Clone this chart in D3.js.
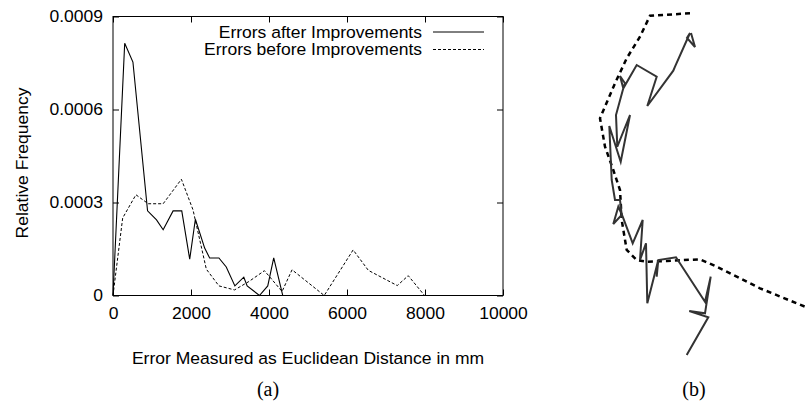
<!DOCTYPE html>
<html>
<head>
<meta charset="utf-8">
<script src="https://cdn.jsdelivr.net/npm/d3@7"></script>
<style>
  body { margin: 0; background: #fff; }
  svg { display: block; font-family: "Liberation Sans", Arial, sans-serif; }
</style>
</head>
<body>
<svg id="chart" width="805" height="402"></svg>
<script>
// (a) histogram of errors, x in mm, y relative frequency
const AFTER_X = [0, 300, 511, 886, 1116, 1286, 1541, 1763, 1967, 2112, 2350, 2478, 2716, 2904, 3125, 3354, 3440, 3755, 3968, 4121, 4352, 4950];
const AFTER_Y = [0, 0.000814, 0.000753, 0.000273, 0.000244, 0.000212, 0.000273, 0.000273, 0.000117, 0.000246, 0.000153, 0.000121, 0.000121, 0.000092, 0.000031, 0.000059, 0.000031, 0, 0.000031, 0.000121, 0, 0];
const BEFORE_X = [0, 248, 588, 903, 1286, 1754, 2052, 2393, 2716, 3117, 3483, 3883, 4335, 4591, 5416, 6157, 6548, 7289, 7570, 7988, 9120];
const BEFORE_Y = [0, 0.00025, 0.000325, 0.000296, 0.000296, 0.000375, 0.000276, 0.000085, 0.000031, 0.000018, 0.000045, 0.00008, 0.000013, 0.000083, 0, 0.000147, 0.000081, 0.000032, 0.000064, 0, 0];
const X_TICKS = [0, 2000, 4000, 6000, 8000, 10000];
const Y_TICKS = [0, 0.0003, 0.0006, 0.0009];
const Y_TICK_LABELS = ['0', '0.0003', '0.0006', '0.0009'];
const SERIES_NAMES = ['Errors after Improvements', 'Errors before Improvements'];

// (b) trajectories, panel units (no axes in the original)
const PATH_TRUE_X = [130, 90, 80, 66.7, 55, 40, 45, 53.3, 60, 61.7, 66.7, 76.7, 86.7, 106.7, 140, 156.7, 200, 245];
const PATH_TRUE_Y = [13.3, 15.7, 36.7, 58.3, 83.3, 118.3, 146.7, 170, 190, 220, 250, 260, 261.7, 261, 259.3, 266.7, 288.3, 306.7];
const PATH_EST_X = [131, 135, 127, 130, 115, 113.3, 87.3, 96.7, 76.7, 63.3, 60, 65, 63.3, 56, 57.3, 70, 60.7, 49.3, 51.7, 55, 60, 61.7, 53.3, 58.3, 62.7, 72.7, 82.7, 80, 86, 87.3, 98.3, 96.7, 98.3, 116, 145, 150.7, 145, 129.3, 148.3, 126.7];
const PATH_EST_Y = [33, 47, 38, 33, 66.7, 70.7, 106, 76.7, 65, 88.3, 76, 83.3, 88.3, 115, 146.7, 115, 161.7, 126, 180, 200, 200, 215, 224, 206.7, 216.7, 243.3, 220, 260, 243.3, 303.3, 260, 276.7, 260, 257.3, 301.7, 276.7, 313.3, 311, 317.3, 355];

const FONT_SIZE = 16.3;
const STRETCH = 1.075;   // the original text is a little wider than Arial

// widen text horizontally a bit
function stretch(sel) {
  sel.each(function() {
    const len = this.getComputedTextLength();
    if (len > 0) {
      d3.select(this).attr('textLength', len * STRETCH).attr('lengthAdjust', 'spacingAndGlyphs');
    }
  });
}

const svg = d3.select('#chart');
const M = { left: 113, right: 503, top: 16.5, bottom: 295.5 };

const x = d3.scaleLinear().domain([0, 10000]).range([M.left, M.right]);
const y = d3.scaleLinear().domain([0, 0.0009]).range([M.bottom, M.top]);

// frame
svg.append('rect')
  .attr('x', M.left).attr('y', M.top)
  .attr('width', M.right - M.left).attr('height', M.bottom - M.top)
  .attr('fill', 'none').attr('stroke', '#000').attr('stroke-width', 1);

// ticks, mirrored on all four sides, pointing inwards
const g = svg.append('g');
g.append('g').attr('transform', `translate(0,${M.bottom})`)
  .call(d3.axisBottom(x).tickValues(X_TICKS).tickSizeInner(-6).tickSizeOuter(0).tickPadding(12).tickFormat(d3.format('d')))
  .call(a => a.select('.domain').remove());
g.append('g').attr('transform', `translate(0,${M.top})`)
  .call(d3.axisTop(x).tickValues(X_TICKS).tickSizeInner(-6).tickSizeOuter(0).tickFormat(''))
  .call(a => a.select('.domain').remove());
g.append('g').attr('transform', `translate(${M.left},0)`)
  .call(d3.axisLeft(y).tickValues(Y_TICKS).tickSizeInner(-6).tickSizeOuter(0).tickPadding(10)
    .tickFormat((d, i) => Y_TICK_LABELS[i]))
  .call(a => a.select('.domain').remove());
g.append('g').attr('transform', `translate(${M.right},0)`)
  .call(d3.axisRight(y).tickValues(Y_TICKS).tickSizeInner(-6).tickSizeOuter(0).tickFormat(''))
  .call(a => a.select('.domain').remove());
g.selectAll('.tick text').attr('fill', '#000').attr('font-size', FONT_SIZE)
  .attr('font-family', '"Liberation Sans", Arial, sans-serif')
  .call(stretch);
g.selectAll('.tick line').attr('stroke', '#000');

const line = d3.line().x(d => x(d[0])).y(d => y(d[1]));
const after = AFTER_X.map((v, i) => [v, AFTER_Y[i]]);
const before = BEFORE_X.map((v, i) => [v, BEFORE_Y[i]]);

svg.append('path').datum(before).attr('d', line)
  .attr('fill', 'none').attr('stroke', '#000').attr('stroke-width', 1).attr('stroke-dasharray', '3,2');
svg.append('path').datum(after).attr('d', line)
  .attr('fill', 'none').attr('stroke', '#000').attr('stroke-width', 1.1);

// legend
const leg = svg.append('g');
SERIES_NAMES.forEach((name, i) => {
  const yy = 32 + i * 17.5;
  leg.append('text').attr('x', 422).attr('y', yy).attr('dy', '0.35em')
    .attr('text-anchor', 'end').attr('font-size', FONT_SIZE).text(name)
    .call(stretch);
  leg.append('line').attr('x1', 433).attr('x2', 484).attr('y1', yy).attr('y2', yy)
    .attr('stroke', '#000').attr('stroke-width', 1)
    .attr('stroke-dasharray', i === 0 ? null : '3,2');
});

// axis titles
svg.append('text').attr('transform', 'translate(22,163) rotate(-90)')
  .attr('text-anchor', 'middle').attr('dy', '0.35em').attr('font-size', FONT_SIZE)
  .text('Relative Frequency').call(stretch);
svg.append('text').attr('x', 308).attr('y', 358).attr('dy', '0.35em')
  .attr('text-anchor', 'middle').attr('font-size', FONT_SIZE)
  .text('Error Measured as Euclidean Distance in mm').call(stretch);
svg.append('text').attr('x', 268).attr('y', 389).attr('dy', '0.35em')
  .attr('text-anchor', 'middle').attr('font-size', 20)
  .attr('font-family', '"Liberation Serif", "Times New Roman", serif')
  .text('(a)');

// (b) panel
const bx = d3.scaleLinear().domain([0, 245]).range([560, 805]);
const by = d3.scaleLinear().domain([0, 402]).range([0, 402]);
const bline = d3.line().x(d => bx(d[0])).y(d => by(d[1]));
const truePath = PATH_TRUE_X.map((v, i) => [v, PATH_TRUE_Y[i]]);
const estPath = PATH_EST_X.map((v, i) => [v, PATH_EST_Y[i]]);

svg.append('path').datum(truePath).attr('d', bline)
  .attr('fill', 'none').attr('stroke', '#000').attr('stroke-width', 2.5).attr('stroke-dasharray', '5,4');
svg.append('path').datum(estPath).attr('d', bline)
  .attr('fill', 'none').attr('stroke', '#333').attr('stroke-width', 2).attr('stroke-linejoin', 'miter');

svg.append('text').attr('x', 694).attr('y', 389).attr('dy', '0.35em')
  .attr('text-anchor', 'middle').attr('font-size', 20)
  .attr('font-family', '"Liberation Serif", "Times New Roman", serif')
  .text('(b)');
</script>
</body>
</html>
